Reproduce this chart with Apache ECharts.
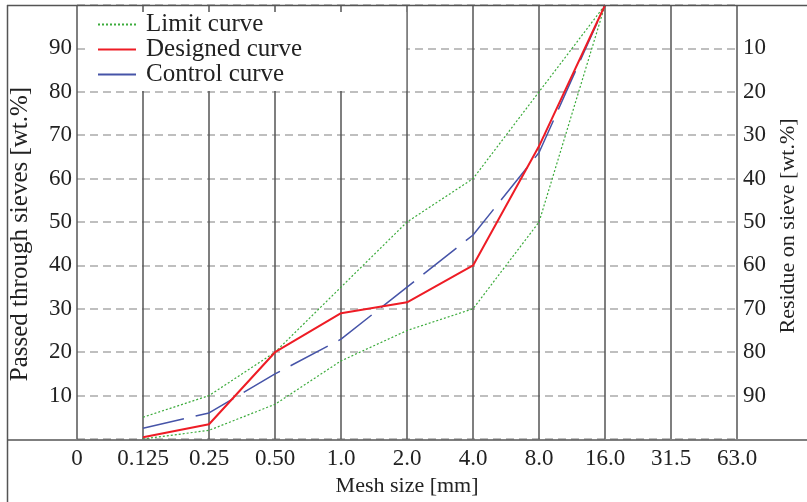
<!DOCTYPE html>
<html>
<head>
<meta charset="utf-8">
<script src="https://cdn.jsdelivr.net/npm/echarts@6/dist/echarts.min.js"></script>
<style>
html,body{margin:0;padding:0;background:#fff;}
#c{width:807px;height:502px;}
</style>
</head>
<body>
<div id="c"></div>
<script>
var categories = ['0','0.125','0.25','0.50','1.0','2.0','4.0','8.0','16.0','31.5','63.0'];
var limitUpper = [null, 5, 10, 20, 35, 50, 60, 80, 100, null, null];
var limitLower = [null, 0, 2, 8, 18, 25, 30, 50, 100, null, null];
var designed   = [null, 0.4, 3.4, 20, 29, 31.5, 40, 67.5, 100, null, null];
var control    = [null, 2.5, 6, 15, 23, 35, 47, 66, 100, null, null];
var yTicks = [10, 20, 30, 40, 50, 60, 70, 80, 90];

var FONT = "'Liberation Serif','Times New Roman',serif";
var TXT = '#222';
var chart = echarts.init(document.getElementById('c'), null, {renderer:'canvas'});
var tickFmt = function(v){ return yTicks.indexOf(v) >= 0 ? String(v) : ''; };
var frameStyle = {stroke:'#555', lineWidth:1.5};
chart.setOption({
  animation:false,
  backgroundColor:'#fff',
  grid:{left:77, right:59, top:5, bottom:62},
  legend:{
    left:85, top:12, orient:'vertical',
    backgroundColor:'#fff',
    padding:[0,104,4,12],
    itemWidth:38, itemHeight:14, itemGap:0,
    itemStyle:{opacity:0},
    textStyle:{fontFamily:FONT, fontSize:25, lineHeight:24, color:TXT, padding:[0,0,0,5]},
    data:['Limit curve','Designed curve','Control curve']
  },
  xAxis:{
    type:'category', data:categories, boundaryGap:false,
    axisLine:{show:false}, axisTick:{show:false},
    axisLabel:{interval:0, fontFamily:FONT, fontSize:23, color:TXT, margin:8},
    splitLine:{show:true, interval:0, lineStyle:{color:'#555', width:1.5}},
    name:'Mesh size [mm]', nameLocation:'middle', nameGap:36,
    nameTextStyle:{fontFamily:FONT, fontSize:22, color:TXT}
  },
  yAxis:[{
    type:'value', min:0, max:100, interval:10, position:'left',
    axisLine:{show:false}, axisTick:{show:false},
    axisLabel:{formatter:tickFmt, fontFamily:FONT, fontSize:23, color:TXT, margin:5},
    splitLine:{show:true, lineStyle:{color:'#aaa', width:1.5, type:[8,5]}},
    name:'Passed through sieves [wt.%]', nameLocation:'middle', nameGap:44,
    nameTextStyle:{fontFamily:FONT, fontSize:25, color:TXT, padding:[0,24,0,0]}
  },{
    type:'value', min:0, max:100, interval:10, position:'right', inverse:true,
    axisLine:{show:false}, axisTick:{show:false},
    axisLabel:{formatter:tickFmt, fontFamily:FONT, fontSize:23, color:TXT, margin:6},
    splitLine:{show:false},
    name:'Residue on sieve [wt.%]', nameLocation:'middle', nameGap:36,
    nameTextStyle:{fontFamily:FONT, fontSize:22, color:TXT, padding:[0,8,0,0]}
  }],
  graphic:[
    {type:'line', z:10, shape:{x1:7.5, y1:5, x2:7.5, y2:502}, style:frameStyle},
    {type:'line', z:10, shape:{x1:7, y1:5.5, x2:807, y2:5.5}, style:frameStyle},
    {type:'line', z:10, shape:{x1:7, y1:440, x2:807, y2:440}, style:frameStyle}
  ],
  series:[
    {name:'Limit curve', type:'line', data:limitUpper, symbol:'none', z:3,
     lineStyle:{color:'#3cab3c', width:1.2, type:[2,2]}, itemStyle:{color:'#3cab3c'}},
    {name:'Limit curve', type:'line', data:limitLower, symbol:'none', z:3,
     lineStyle:{color:'#3cab3c', width:1.2, type:[2,2]}, itemStyle:{color:'#3cab3c'}},
    {name:'Designed curve', type:'line', data:designed, symbol:'none', z:4,
     lineStyle:{color:'#ee1c25', width:2}, itemStyle:{color:'#ee1c25'}},
    {name:'Control curve', type:'line', data:control, symbol:'none', z:3,
     lineStyle:{color:'#4654a8', width:1.5, type:[42,12]}, itemStyle:{color:'#4654a8'}}
  ]
});
</script>
</body>
</html>
